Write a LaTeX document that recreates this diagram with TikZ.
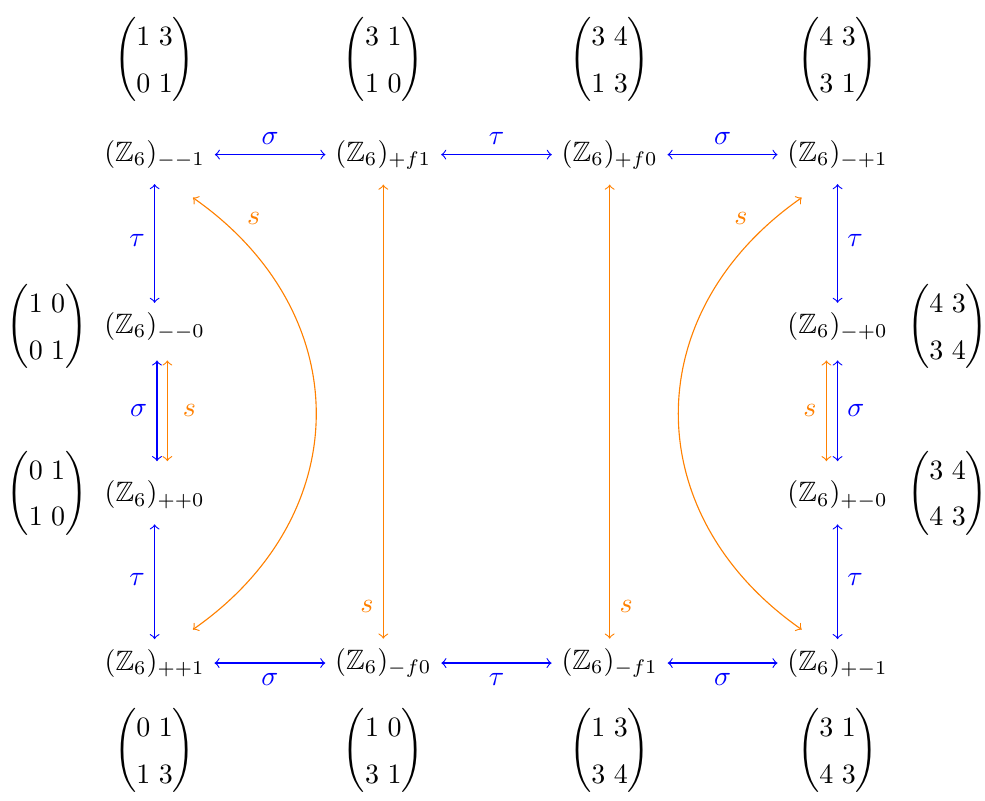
\documentclass[tikz,border=0pt]{standalone}
\usepackage{amsmath,amssymb}
\setlength{\arraycolsep}{1.5pt}
\renewcommand{\arraystretch}{1.38}
\begin{document}
\begin{tikzpicture}[
    sgm/.style={<->,blue},
    sarr/.style={<->,orange},
    mat/.style={inner sep=0pt}]
    % cornice
    \useasboundingbox (0,0) rectangle (12.36,-10.05);

    % riga superiore
    \node (mm1) at (1.94,-1.94) {$(\mathbb{Z}_6)_{--1}$};
    \node (pf1) at (4.81,-1.94) {$(\mathbb{Z}_6)_{+f1}$};
    \node (pf0) at (7.65,-1.94) {$(\mathbb{Z}_6)_{+f0}$};
    \node (mp1) at (10.51,-1.94) {$(\mathbb{Z}_6)_{-+1}$};

    % colonne laterali
    \node (mm0) at (1.94,-4.10) {$(\mathbb{Z}_6)_{--0}$};
    \node (pp0) at (1.94,-6.21) {$(\mathbb{Z}_6)_{++0}$};
    \node (mp0) at (10.51,-4.10) {$(\mathbb{Z}_6)_{-+0}$};
    \node (pm0) at (10.51,-6.21) {$(\mathbb{Z}_6)_{+-0}$};

    % riga inferiore
    \node (pp1) at (1.94,-8.32) {$(\mathbb{Z}_6)_{++1}$};
    \node (mf0) at (4.81,-8.32) {$(\mathbb{Z}_6)_{-f0}$};
    \node (mf1) at (7.65,-8.32) {$(\mathbb{Z}_6)_{-f1}$};
    \node (pm1) at (10.51,-8.32) {$(\mathbb{Z}_6)_{+-1}$};

    % matrici
    \node[mat] (Amm1) at (1.94,-0.75) {$\begin{pmatrix}1&3\\0&1\end{pmatrix}$};
    \node[mat] (Apf1) at (4.81,-0.75) {$\begin{pmatrix}3&1\\1&0\end{pmatrix}$};
    \node[mat] (Apf0) at (7.65,-0.75) {$\begin{pmatrix}3&4\\1&3\end{pmatrix}$};
    \node[mat] (Amp1) at (10.51,-0.75) {$\begin{pmatrix}4&3\\3&1\end{pmatrix}$};
    \node[mat] (Amm0) at (0.59,-4.10) {$\begin{pmatrix}1&0\\0&1\end{pmatrix}$};
    \node[mat] (App0) at (0.59,-6.19) {$\begin{pmatrix}0&1\\1&0\end{pmatrix}$};
    \node[mat] (Amp0) at (11.89,-4.10) {$\begin{pmatrix}4&3\\3&4\end{pmatrix}$};
    \node[mat] (Apm0) at (11.89,-6.19) {$\begin{pmatrix}3&4\\4&3\end{pmatrix}$};
    \node[mat] (App1) at (1.94,-9.42) {$\begin{pmatrix}0&1\\1&3\end{pmatrix}$};
    \node[mat] (Amf0) at (4.81,-9.42) {$\begin{pmatrix}1&0\\3&1\end{pmatrix}$};
    \node[mat] (Amf1) at (7.65,-9.42) {$\begin{pmatrix}1&3\\3&4\end{pmatrix}$};
    \node[mat] (Apm1) at (10.51,-9.42) {$\begin{pmatrix}3&1\\4&3\end{pmatrix}$};

    % frecce orizzontali
    \draw[sgm] (mm1) -- node[above] {$\sigma$} (pf1);
    \draw[sgm] (pf1) -- node[above] {$\tau$} (pf0);
    \draw[sgm] (pf0) -- node[above] {$\sigma$} (mp1);
    \draw[sgm] (pp1) -- node[below] {$\sigma$} (mf0);
    \draw[sgm] (mf0) -- node[below] {$\tau$} (mf1);
    \draw[sgm] (mf1) -- node[below] {$\sigma$} (pm1);

    % frecce verticali a sinistra
    \draw[sgm,shorten <=2pt] (mm1) -- node[left] {$\tau$} (mm0);
    \draw[sgm,shorten <=3.5pt,shorten >=3.5pt] ([xshift=0.03cm]mm0.south) -- node[left] {$\sigma$} ([xshift=0.03cm]pp0.north);
    \draw[sarr,shorten <=3.5pt,shorten >=3.5pt] ([xshift=0.16cm]mm0.south) -- node[right=2pt] {$s$} ([xshift=0.16cm]pp0.north);
    \draw[sgm,shorten <=2pt] (pp0) -- node[left] {$\tau$} (pp1);

    % frecce verticali a destra
    \draw[sgm,shorten <=2pt] (mp1) -- node[right] {$\tau$} (mp0);
    \draw[sgm,shorten <=3.5pt,shorten >=3.5pt] (mp0) -- node[right] {$\sigma$} (pm0);
    \draw[sarr,shorten <=3.5pt,shorten >=3.5pt] ([xshift=-0.14cm]mp0.south) -- node[left] {$s$} ([xshift=-0.14cm]pm0.north);
    \draw[sgm,shorten <=2pt] (pm0) -- node[right] {$\tau$} (pm1);

    % frecce lunghe e curve
    \draw[sarr,shorten <=2pt] (pf1) -- node[pos=0.93,left] {$s$} (mf0);
    \draw[sarr,shorten <=2pt] (pf0) -- node[pos=0.93,right] {$s$} (mf1);
    \draw[sarr] ([shift={(0.48,-0.24)}]mm1.south) to[out=-35,in=35,looseness=1.19]
        node[pos=0.1,above right] {$s$} ([shift={(0.48,0.12)}]pp1.north);
    \draw[sarr] ([shift={(-0.45,-0.24)}]mp1.south) to[out=-145,in=145,looseness=1.19]
        node[pos=0.1,above left] {$s$} ([shift={(-0.45,0.12)}]pm1.north);
\end{tikzpicture}
\end{document}
